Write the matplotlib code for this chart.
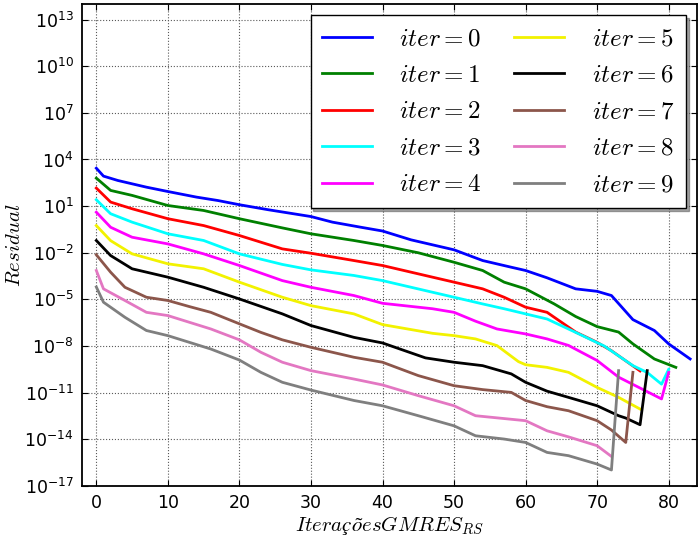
import numpy as np
import matplotlib
matplotlib.use('Agg')
import matplotlib.pyplot as plt
from matplotlib.ticker import FixedLocator, NullLocator

# expoentes (log10 do residuo), por iteracao externa
x0 = [0, 1, 3, 7, 10, 14, 17, 20, 24, 30, 33, 37, 40, 44, 50, 54, 58, 60, 63, 67, 70, 72, 75, 78, 80, 83]
r0 = [3.44, 2.93, 2.65, 2.22, 1.94, 1.58, 1.36, 1.09, 0.77, 0.33, -0.03, -0.36, -0.6, -1.17, -1.81, -2.5,
      -2.93, -3.14, -3.61, -4.32, -4.48, -4.75, -6.3, -7.0, -7.86, -8.83]

x1 = [0, 2, 5, 10, 15, 20, 26, 30, 36, 40, 45, 50, 54, 57, 60, 64, 67, 70, 73, 75, 78, 81]
r1 = [2.8, 2.01, 1.69, 1.04, 0.72, 0.19, -0.4, -0.78, -1.21, -1.53, -2.0, -2.61, -3.14, -3.89, -4.32,
      -5.29, -6.1, -6.75, -7.1, -7.86, -8.83, -9.37]

x2 = [0, 2, 5, 10, 15, 20, 26, 30, 36, 40, 47, 50, 54, 57, 60, 63, 67, 70, 72, 76]
r2 = [2.16, 1.26, 0.83, 0.19, -0.25, -0.89, -1.75, -2.03, -2.5, -2.82, -3.57, -3.89, -4.32, -4.86, -5.5,
      -5.83, -7.1, -7.76, -8.3, -9.6]

x3 = [0, 2, 5, 10, 15, 20, 26, 30, 36, 40, 47, 50, 54, 57, 60, 63, 67, 71, 75, 77, 79, 80]
r3 = [1.41, 0.51, -0.03, -0.78, -1.21, -2.07, -2.75, -3.1, -3.46, -3.79, -4.54, -4.86, -5.29, -5.6, -5.93,
      -6.26, -7.12, -8.0, -9.26, -9.7, -10.45, -9.5]

x4 = [0, 2, 5, 10, 15, 20, 26, 30, 36, 40, 47, 50, 53, 56, 60, 63, 66, 70, 73, 76, 79, 80]
r4 = [0.61, -0.36, -1.0, -1.43, -2.07, -2.82, -3.79, -4.22, -4.75, -5.25, -5.6, -5.83, -6.4, -6.9, -7.22,
      -7.54, -7.96, -8.93, -10.0, -10.7, -11.4, -9.7]

x5 = [0, 2, 5, 10, 15, 20, 26, 30, 36, 40, 47, 50, 53, 56, 59, 60, 63, 66, 70, 73, 76]
r5 = [-0.25, -1.22, -2.07, -2.71, -3.03, -3.89, -4.86, -5.4, -5.93, -6.62, -7.18, -7.33, -7.54, -7.97,
      -9.0, -9.2, -9.37, -9.69, -10.66, -11.3, -12.05]

x6 = [0, 2, 5, 10, 15, 20, 26, 30, 36, 40, 46, 50, 54, 58, 60, 63, 66, 70, 73, 74, 76, 77]
r6 = [-1.21, -2.18, -3.03, -3.57, -4.22, -4.97, -5.93, -6.68, -7.44, -7.8, -8.76, -9.04, -9.26, -9.79,
      -10.33, -10.9, -11.3, -11.84, -12.48, -12.63, -13.06, -9.58]

x7 = [0, 2, 4, 7, 10, 13, 16, 20, 23, 26, 30, 36, 40, 45, 50, 54, 58, 60, 63, 66, 70, 72, 74, 75]
r7 = [-2.13, -3.25, -4.22, -4.86, -5.07, -5.46, -5.83, -6.57, -7.12, -7.6, -8.08, -8.72, -9.04, -9.9,
      -10.55, -10.8, -10.98, -11.5, -11.9, -12.16, -12.8, -13.4, -14.2, -9.69]

x8 = [0, 1, 4, 7, 10, 13, 16, 20, 23, 26, 30, 36, 40, 45, 50, 53, 60, 63, 66, 70, 72]
r8 = [-3.14, -4.32, -5.07, -5.83, -6.04, -6.47, -6.9, -7.6, -8.4, -9.04, -9.58, -10.12, -10.5, -11.19,
      -11.84, -12.48, -12.8, -13.45, -13.84, -14.41, -15.1]

x9 = [0, 1, 4, 7, 10, 13, 16, 20, 23, 26, 30, 36, 40, 45, 50, 53, 57, 60, 63, 66, 70, 72, 73]
r9 = [-4.2, -5.18, -6.15, -7.0, -7.33, -7.76, -8.19, -8.9, -9.69, -10.33, -10.83, -11.5, -11.84, -12.48,
      -13.13, -13.77, -13.98, -14.2, -14.84, -15.05, -15.59, -15.97, -9.58]

series_x = [x0, x1, x2, x3, x4, x5, x6, x7, x8, x9]
series_r = [r0, r1, r2, r3, r4, r5, r6, r7, r8, r9]
cores = ['#0000ff', '#008000', '#ff0000', '#00ffff', '#ff00ff',
         '#f2f200', '#000000', '#8c564b', '#e377c2', '#7f7f7f']

yticks = [1e-17, 1e-14, 1e-11, 1e-8, 1e-5, 1e-2, 1e1, 1e4, 1e7, 1e10, 1e13]
xticks = [0, 10, 20, 30, 40, 50, 60, 70, 80]

fig = plt.figure(figsize=(6.98, 5.4), dpi=100)
ax = fig.add_axes([0.1175, 0.1, 0.8815, 0.8926])

for k in range(10):
    ax.plot(series_x[k], 10.0 ** np.array(series_r[k]), color=cores[k], lw=2,
            label=r'$iter=%d$' % k)

ax.set_yscale('log')
ax.set_xlim(-2, 84)
ax.set_ylim(1e-17, 1e14)
ax.yaxis.set_major_locator(FixedLocator(yticks))
ax.yaxis.set_minor_locator(NullLocator())
ax.set_xticks(xticks)
ax.tick_params(axis='both', which='major', direction='in', top=True, right=True,
               length=4, labelsize=12.5, pad=6)
for s in ax.spines.values():
    s.set_linewidth(1.3)
ax.grid(True, color='0.35', linestyle=':', linewidth=0.8)

ax.set_ylabel(r'$Residual$', fontsize=15, math_fontfamily='cm', labelpad=0)
ax.set_xlabel(r'$Iterações GMRES_{RS}$', fontsize=15, math_fontfamily='cm', labelpad=1)

leg = ax.legend(loc='upper right', ncol=2, shadow=True, fancybox=False,
                prop={'size': 18, 'math_fontfamily': 'cm'}, handlelength=2.0,
                handletextpad=1.1, columnspacing=1.3, borderaxespad=0.45,
                labelspacing=0.5, borderpad=0.45)
leg.get_frame().set_edgecolor('k')
leg.get_frame().set_linewidth(1.0)
leg.get_frame().set_alpha(1)

fig.savefig('out.png', dpi=100)
